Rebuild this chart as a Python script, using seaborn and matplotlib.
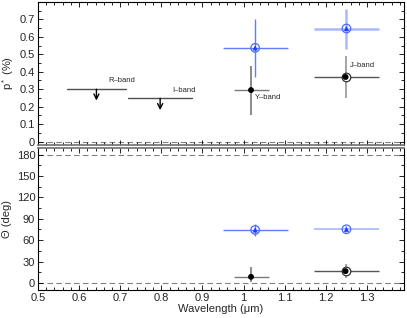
import numpy as np
import pandas as pd
import matplotlib
matplotlib.use("Agg")
import matplotlib.pyplot as plt
from matplotlib.ticker import MultipleLocator
import seaborn as sns

# ---- data ----
lim_bands = ["R\u2013band", "I\u2013band"]
lim_x = [0.642, 0.797]
lim_p = [0.300, 0.248]
lim_xlo = [0.570, 0.719]
lim_xhi = [0.715, 0.875]
lim_tip = [0.235, 0.180]

det_bands = ["Y\u2013band", "J\u2013band"]
blk_x = [1.018, 1.248]
blk_xlo = [0.976, 1.170]
blk_xhi = [1.061, 1.329]
blk_p = [0.295, 0.370]
blk_plo = [0.153, 0.248]
blk_phi = [0.434, 0.490]
blk_th = [8.5, 16.5]
blk_thlo = [1.5, 7.0]
blk_thhi = [22.5, 26.0]

blu_x = [1.028, 1.250]
blu_xlo = [0.949, 1.170]
blu_xhi = [1.109, 1.330]
blu_p = [0.537, 0.648]
blu_plo = [0.368, 0.528]
blu_phi = [0.705, 0.762]
blu_th = [74.3, 75.3]
blu_thlo = [65.5, 69.0]
blu_thhi = [82.5, 80.5]

xticks = [0.5, 0.6, 0.7, 0.8, 0.9, 1.0, 1.1, 1.2, 1.3]
xticklabels = ["0.5", "0.6", "0.7", "0.8", "0.9", "1", "1.1", "1.2", "1.3"]
pticks = [0, 0.1, 0.2, 0.3, 0.4, 0.5, 0.6, 0.7]
pticklabels = ["0", "0.1", "0.2", "0.3", "0.4", "0.5", "0.6", "0.7"]
thticks = [0, 30, 60, 90, 120, 150, 180]

sns.set_theme(style="ticks")
plt.rcParams["font.family"] = ["Liberation Sans", "DejaVu Sans"]
plt.rcParams["mathtext.fontset"] = "custom"
plt.rcParams["mathtext.rm"] = "Liberation Sans"
plt.rcParams["mathtext.it"] = "Liberation Sans"

fig = plt.figure(figsize=(4.07, 3.18), dpi=100)
ax1 = fig.add_axes([0.0934, 0.544, 0.8992, 0.4497])
ax2 = fig.add_axes([0.0934, 0.088, 0.8992, 0.448])

df_blk = pd.DataFrame({"x": blk_x, "p": blk_p, "th": blk_th, "band": det_bands})
df_blu = pd.DataFrame({"x": blu_x, "p": blu_p, "th": blu_th, "band": det_bands})

blue_err = ["#5f7dff", "#a9b8ff"]
blk_herr = ["#7a7a7a", "#555555"]
blk_verr = ["#8a8a8a", "#a5a5a5"]

for ax, col, lo, hi, blue_lw in [(ax1, "p", (blu_plo, blk_plo), (blu_phi, blk_phi), [1.0, 1.8]),
                                 (ax2, "th", (blu_thlo, blk_thlo), (blu_thhi, blk_thhi), [1.0, 1.2])]:
    for i in range(2):
        # blue
        yv = df_blu[col][i]
        ax.errorbar(blu_x[i], yv,
                    xerr=[[blu_x[i] - blu_xlo[i]], [blu_xhi[i] - blu_x[i]]],
                    fmt="none", ecolor=blue_err[i], elinewidth=blue_lw[i], capsize=0)
        ax.errorbar(blu_x[i], yv,
                    yerr=[[yv - lo[0][i]], [hi[0][i] - yv]],
                    fmt="none", ecolor=blue_err[i], elinewidth=blue_lw[i], capsize=0)
        # black
        yb = df_blk[col][i]
        ax.errorbar(blk_x[i], yb,
                    xerr=[[blk_x[i] - blk_xlo[i]], [blk_xhi[i] - blk_x[i]]],
                    fmt="none", ecolor=blk_herr[i], elinewidth=1.0, capsize=0)
        ax.errorbar(blk_x[i], yb,
                    yerr=[[yb - lo[1][i]], [hi[1][i] - yb]],
                    fmt="none", ecolor=blk_verr[i], elinewidth=1.4, capsize=0)
    # blue circle + triangle
    sns.scatterplot(data=df_blu, x="x", y=col, ax=ax, marker="o", s=38,
                    facecolor="none", edgecolor="#4a6bff", linewidth=0.9, zorder=5, legend=False)
    sns.scatterplot(data=df_blu, x="x", y=col, ax=ax, marker="^", s=14,
                    color="#1e3cff", edgecolor="none", zorder=6, legend=False)
    # black points
    sns.scatterplot(data=df_blk.iloc[[1]], x="x", y=col, ax=ax, marker="o", s=38,
                    facecolor="white", edgecolor="#303030", linewidth=0.9, zorder=5, legend=False)
    sns.scatterplot(data=df_blk, x="x", y=col, ax=ax, marker="o", s=18,
                    color="black", edgecolor="none", zorder=6, legend=False)

# upper limits
for i in range(2):
    ax1.plot([lim_xlo[i], lim_xhi[i]], [lim_p[i], lim_p[i]], color="#505050", lw=1.0)
    ax1.annotate("", xy=(lim_x[i], lim_tip[i]), xytext=(lim_x[i], lim_p[i]),
                 arrowprops=dict(arrowstyle="->", color="black", lw=1.0,
                                 shrinkA=0, shrinkB=0, mutation_scale=9))

# band labels
ax1.text(0.672, 0.352, lim_bands[0], fontsize=5.5, va="center", ha="left")
ax1.text(0.827, 0.295, lim_bands[1], fontsize=5.5, va="center", ha="left")
ax1.text(1.027, 0.255, det_bands[0], fontsize=5.5, va="center", ha="left")
ax1.text(1.258, 0.438, det_bands[1], fontsize=5.5, va="center", ha="left")

# reference lines
ax1.axhline(0, color="#808080", ls=(0, (5, 3)), lw=0.8, zorder=0)
ax2.axhline(0, color="#808080", ls=(0, (5, 3)), lw=0.8, zorder=0)
ax2.axhline(180, color="#808080", ls=(0, (5, 3)), lw=0.8, zorder=0)

for ax in (ax1, ax2):
    ax.set_xlim(0.5, 1.39)
    ax.set_xticks(xticks)
    ax.xaxis.set_minor_locator(MultipleLocator(0.02))
    ax.tick_params(which="both", direction="in", top=True, right=True,
                   labelsize=8, pad=2, width=0.6, color="black")
    ax.tick_params(which="major", length=3.5)
    ax.tick_params(which="minor", length=2)
    for s in ax.spines.values():
        s.set_linewidth(0.8)
        s.set_color("black")

ax1.set_ylim(-0.02, 0.8)
ax1.set_yticks(pticks)
ax1.set_yticklabels(pticklabels)
ax1.yaxis.set_minor_locator(MultipleLocator(0.05))
ax1.tick_params(labelbottom=False)
ax1.set_xlabel("")
ax1.set_ylabel("p$^*$ (%)", fontsize=8, labelpad=3)
ax1.spines["bottom"].set_color("#707070")
ax1.spines["bottom"].set_linewidth(1.2)

ax2.set_ylim(-10, 190)
ax2.set_yticks(thticks)
ax2.yaxis.set_minor_locator(MultipleLocator(15))
ax2.set_xticklabels(xticklabels)
ax2.set_ylabel("\u0398 (deg)", fontsize=8, labelpad=3)
ax2.set_xlabel("Wavelength (\u03bcm)", fontsize=8, labelpad=1)
ax2.spines["top"].set_color("#707070")
ax2.spines["top"].set_linewidth(1.2)

fig.savefig("out.png", dpi=100)
